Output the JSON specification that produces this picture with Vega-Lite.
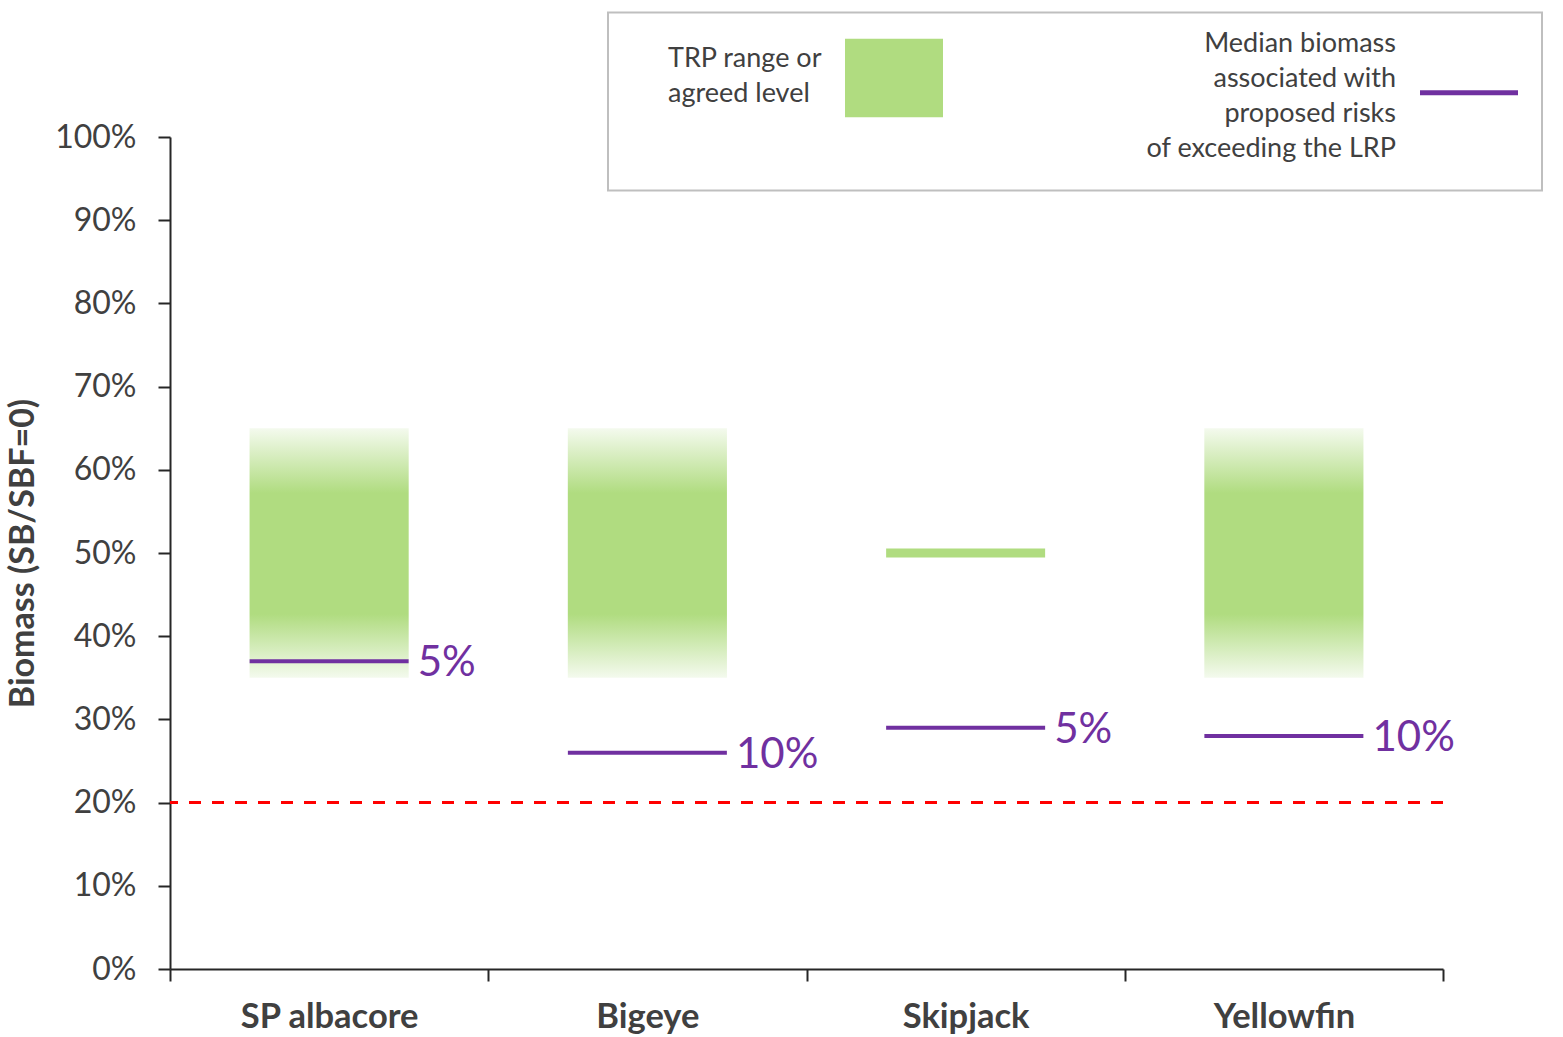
{
  "$schema": "https://vega.github.io/schema/vega-lite/v6.json",
  "width": 1273,
  "height": 832,
  "autosize": {"type": "none"},
  "padding": {"left": 170, "top": 137, "right": 120, "bottom": 68},
  "background": "white",
  "config": {
    "view": {"stroke": null},
    "font": "Lato",
    "axis": {
      "grid": false,
      "domainColor": "#262626",
      "domainWidth": 2,
      "tickColor": "#262626",
      "tickWidth": 2,
      "tickSize": 12,
      "labelColor": "#404040",
      "labelFont": "Lato",
      "titleFont": "Lato",
      "titleColor": "#404040"
    }
  },
  "datasets": {
    "stocks": [
      {"species": "SP albacore", "trp_type": "range", "trp_lo": 0.35, "trp_hi": 0.65, "median": 0.37, "risk": "5%"},
      {"species": "Bigeye", "trp_type": "range", "trp_lo": 0.35, "trp_hi": 0.65, "median": 0.26, "risk": "10%"},
      {"species": "Skipjack", "trp_type": "level", "trp_lo": 0.5, "trp_hi": 0.5, "median": 0.29, "risk": "5%"},
      {"species": "Yellowfin", "trp_type": "range", "trp_lo": 0.35, "trp_hi": 0.65, "median": 0.28, "risk": "10%"}
    ],
    "limit": [{"lrp": 0.2}]
  },
  "layer": [
    {
      "data": {"name": "stocks"},
      "transform": [{"filter": "datum.trp_type === 'range'"}],
      "mark": {
        "type": "bar",
        "width": {"band": 0.5},
        "fill": {
          "gradient": "linear",
          "x1": 0, "y1": 0, "x2": 0, "y2": 1,
          "stops": [
            {"offset": 0, "color": "#f4faee"},
            {"offset": 0.26, "color": "#b0dc80"},
            {"offset": 0.745, "color": "#b0dc80"},
            {"offset": 1, "color": "#f4faee"}
          ]
        }
      },
      "encoding": {
        "x": {
          "field": "species",
          "type": "nominal",
          "sort": ["SP albacore", "Bigeye", "Skipjack", "Yellowfin"],
          "scale": {"paddingInner": 0, "paddingOuter": 0},
          "axis": {
            "title": null,
            "tickBand": "extent",
            "labelAngle": 0,
            "labelFontSize": 34.5,
            "labelFontWeight": "bold",
            "labelPadding": 19
          }
        },
        "y": {
          "field": "trp_lo",
          "type": "quantitative",
          "scale": {"domain": [0, 1], "nice": false},
          "axis": {
            "title": "Biomass  (SB/SBF=0)",
            "titleFontSize": 34,
            "titleFontWeight": "bold",
            "titlePadding": 14,
            "values": [0, 0.1, 0.2, 0.3, 0.4, 0.5, 0.6, 0.7, 0.8, 0.9, 1],
            "format": ".0%",
            "labelFontSize": 32,
            "labelPadding": 22
          }
        },
        "y2": {"field": "trp_hi"}
      }
    },
    {
      "data": {"name": "stocks"},
      "transform": [{"filter": "datum.trp_type === 'level'"}],
      "mark": {"type": "tick", "size": 159, "thickness": 9, "opacity": 1},
      "encoding": {
        "x": {"field": "species", "type": "nominal", "sort": ["SP albacore", "Bigeye", "Skipjack", "Yellowfin"]},
        "y": {"field": "trp_lo", "type": "quantitative"},
        "color": {"datum": "TRP range or\nagreed level", "type": "nominal"}
      }
    },
    {
      "data": {"name": "limit"},
      "mark": {"type": "rule", "color": "#ff0000", "strokeWidth": 3, "strokeDash": [12, 11]},
      "encoding": {
        "y": {"field": "lrp", "type": "quantitative"}
      }
    },
    {
      "data": {"name": "stocks"},
      "mark": {"type": "tick", "size": 159, "thickness": 4, "opacity": 1},
      "encoding": {
        "x": {"field": "species", "type": "nominal", "sort": ["SP albacore", "Bigeye", "Skipjack", "Yellowfin"]},
        "y": {"field": "median", "type": "quantitative"},
        "color": {
          "datum": "Median biomass\nassociated with\nproposed  risks\nof exceeding the LRP",
          "type": "nominal",
          "scale": {
            "domain": ["TRP range or\nagreed level", "Median biomass\nassociated with\nproposed  risks\nof exceeding the LRP"],
            "range": ["#b0dc80", "#7030a0"]
          },
          "legend": {
            "title": null,
            "orient": "none",
            "legendX": 438,
            "legendY": -124.5,
            "direction": "horizontal",
            "columns": 2,
            "columnPadding": 193,
            "padding": 14,
            "strokeColor": "#bfbfbf",
            "fillColor": "white",
            "labelFont": "Lato",
            "labelFontSize": 27,
            "labelColor": "#404040",
            "labelAlign": "right",
            "labelBaseline": "middle",
            "labelOffset": -124.5,
            "labelLimit": 0,
            "labelExpr": "split(datum.label + '\\n\\n\\n', '\\n', 4)",
            "symbolSize": 9604,
            "symbolStrokeWidth": 5,
            "symbolOffset": 220.5,
            "encoding": {
              "legend": {"strokeWidth": {"value": 2}},
              "labels": {
                "lineHeight": {"value": 35},
                "align": {"condition": {"test": "indexof(datum.value, 'TRP') === 0", "value": "left"}, "value": "right"},
                "dx": {"condition": {"test": "indexof(datum.value, 'TRP') === 0", "value": -153}, "value": 0},
                "dy": {"condition": {"test": "indexof(datum.value, 'TRP') === 0", "value": -19.5}, "value": -49}
              },
              "symbols": {
                "size": {"value": 9604},
                "strokeWidth": {"value": 5},
                "opacity": {"value": 1},
                "shape": {"condition": {"test": "indexof(datum.value, 'TRP') === 0", "value": "M-1,-0.8H1V0.8H-1Z"}, "value": "stroke"},
                "fill": {"value": "#b0dc80"},
                "stroke": {"condition": {"test": "indexof(datum.value, 'TRP') === 0", "value": "transparent"}, "value": "#7030a0"}
              }
            }
          }
        }
      }
    },
    {
      "data": {"name": "stocks"},
      "mark": {"type": "text", "align": "left", "baseline": "middle", "dx": 9, "dy": 2, "fontSize": 42, "font": "Lato", "color": "#7030a0"},
      "encoding": {
        "x": {"field": "species", "type": "nominal", "bandPosition": 0.75, "sort": ["SP albacore", "Bigeye", "Skipjack", "Yellowfin"]},
        "y": {"field": "median", "type": "quantitative"},
        "text": {"field": "risk"}
      }
    }
  ]
}
